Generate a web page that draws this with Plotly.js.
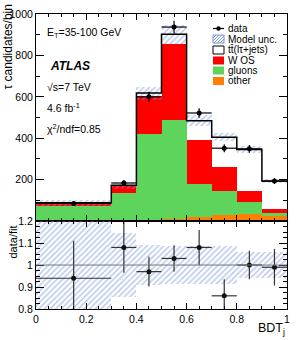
<!DOCTYPE html>
<html>
<head>
<meta charset="utf-8">
<script src="https://cdn.plot.ly/plotly-3.0.1.min.js"></script>
<style>html,body{margin:0;padding:0;background:#fff;}#chart{width:302px;height:340px;}</style>
</head>
<body>
<div id="chart"></div>
<script>
// ---- data ----
const edges = [0, 0.3, 0.4, 0.5, 0.6, 0.7, 0.8, 0.9, 1.0];
const other  = [0, 0, 3, 10, 18, 28, 32, 24];
const gluons = [72, 136, 418, 478, 159, 116, 60, 15];
const wos    = [10, 34, 184, 366, 213, 117, 52, 18];
const ttbar  = [6, 3, 13, 48, 95, 144, 202, 136];
const modelUnc = [14, 16, 31, 46, 26, 20, 16, 9];
const dataY   = [85, 184, 600, 937, 522, 352, 349, 193];
const dataErr = [9, 14, 24, 31, 23, 19, 19, 14];
const ratio    = [0.94, 1.08, 0.97, 1.03, 1.08, 0.86, 1.00, 0.99];
const ratioErr = [0.17, 0.115, 0.068, 0.06, 0.08, 0.075, 0.065, 0.083];
const ratioUnc = [0.25, 0.145, 0.09, 0.085, 0.085, 0.085, 0.06, 0.06];
const topTicks = [0, 200, 400, 600, 800, 1000];
const topTickText = ['', '200', '400', '600', '800', '1000'];
const ratioTicks = [0.8, 0.9, 1, 1.1, 1.2];
const ratioTickText = ['0.8', '0.9', '1', '1.1', '1.2'];
const xTicks = [0, 0.2, 0.4, 0.6, 0.8, 1];
const xTickText = ['0', '0.2', '0.4', '0.6', '0.8', '1'];

// ---- derived ----
const n = other.length;
const centers = [], widths = [], halfW = [];
for (let i = 0; i < n; i++) {
  centers.push((edges[i] + edges[i+1]) / 2);
  widths.push(edges[i+1] - edges[i]);
  halfW.push((edges[i+1] - edges[i]) / 2);
}
const base1 = other.slice();
const base2 = other.map((v, i) => v + gluons[i]);
const base3 = base2.map((v, i) => v + wos[i]);
const total = base3.map((v, i) => v + ttbar[i]);
const zeros = other.map(() => 0);
const stepY = total.concat([total[n-1]]);

const FONT = 'Liberation Sans, Arial, Helvetica, sans-serif';
const HATCH_COL = '#7e97d8';
const hatch = {shape: '/', fgcolor: HATCH_COL, bgcolor: 'rgba(0,0,0,0)', size: 4, solidity: 0.4, fillmode: 'overlay'};

function bar(y, base, color, xa, ya) {
  return {type: 'bar', x: centers, y: y, base: base, width: widths, xaxis: xa, yaxis: ya,
    marker: {color: color, line: {width: 0}}, hoverinfo: 'skip', showlegend: false};
}

const traces = [
  bar(other, zeros, '#ff8000', 'x', 'y'),
  bar(gluons, base1, '#5dd55d', 'x', 'y'),
  bar(wos, base2, '#ff0000', 'x', 'y'),
  bar(ttbar, base3, '#ffffff', 'x', 'y'),
  {type: 'bar', x: centers, y: modelUnc.map(v => 2 * v), base: total.map((t, i) => t - modelUnc[i]),
    width: widths, xaxis: 'x', yaxis: 'y', hoverinfo: 'skip', showlegend: false,
    marker: {color: 'rgba(0,0,0,0)', line: {width: 0}, pattern: hatch}},
  {type: 'scatter', mode: 'lines', x: edges, y: stepY, line: {shape: 'hv', color: '#000', width: 1.5},
    xaxis: 'x', yaxis: 'y', hoverinfo: 'skip', showlegend: false},
  {type: 'scatter', mode: 'markers', x: centers, y: dataY, xaxis: 'x', yaxis: 'y',
    marker: {color: '#000', size: 5},
    error_y: {type: 'data', array: dataErr, color: '#000', thickness: 1.2, width: 0},
    error_x: {type: 'data', array: halfW, color: '#000', thickness: 1.2, width: 0},
    hoverinfo: 'skip', showlegend: false},
  // ratio panel
  {type: 'bar', x: centers, y: ratioUnc.map(v => 2 * v), base: ratioUnc.map(v => 1 - v),
    width: widths, xaxis: 'x2', yaxis: 'y2', hoverinfo: 'skip', showlegend: false,
    marker: {color: 'rgba(0,0,0,0)', line: {width: 0}, pattern: hatch}},
  {type: 'scatter', mode: 'markers', x: centers, y: ratio, xaxis: 'x2', yaxis: 'y2',
    marker: {color: '#111', size: 5},
    error_y: {type: 'data', array: ratioErr, color: '#333', thickness: 1.2, width: 0},
    error_x: {type: 'data', array: halfW, color: '#333', thickness: 1.2, width: 0},
    hoverinfo: 'skip', showlegend: false}
];

// pixel -> paper helpers (plot area: left 36, top 14, width 251, height 295)
const L = 36, T = 14, W = 251, H = 295;
const PX = x => (x - L) / W;
const PY = y => (T + H - y) / H;

function ann(text, x, y, opts) {
  return Object.assign({text: text, x: PX(x), y: PY(y), xref: 'paper', yref: 'paper',
    showarrow: false, xanchor: 'left', yanchor: 'middle',
    font: {family: FONT, size: 10.5, color: '#000'}}, opts || {});
}
function rect(x0, y0, x1, y1, fill, line, lw) {
  return {type: 'rect', xref: 'paper', yref: 'paper', x0: PX(x0), x1: PX(x1), y0: PY(y0), y1: PY(y1),
    fillcolor: fill, line: {color: line, width: lw}, layer: 'above'};
}
function hatchPath(x0, y0, x1, y1, step) {
  let p = '';
  for (let c = x0 + y0 + step; c < x1 + y1; c += step) {
    const xa = Math.max(x0, c - y1), xb = Math.min(x1, c - y0);
    if (xb <= xa) continue;
    p += 'M' + PX(xa) + ',' + PY(c - xa) + 'L' + PX(xb) + ',' + PY(c - xb);
  }
  return {type: 'path', xref: 'paper', yref: 'paper', path: p, line: {color: HATCH_COL, width: 1}, layer: 'above'};
}

const lgX0 = 213, lgX1 = 224, lgTx = 226;
const lgY = [28.5, 39, 50, 60.5, 70.5, 81];
const lgText = ['data', 'Model unc.', 'tt\u0304(l\u03c4+jets)', 'W OS', 'gluons', 'other'];

const shapes = [
  {type: 'line', xref: 'x2', yref: 'y2', x0: edges[0], x1: edges[n], y0: 1, y1: 1, line: {color: '#777', width: 1}},
  {type: 'line', xref: 'paper', yref: 'paper', x0: PX(lgX0), x1: PX(lgX1), y0: PY(lgY[0]), y1: PY(lgY[0]), line: {color: '#000', width: 1.2}, layer: 'above'},
  {type: 'circle', xref: 'paper', yref: 'paper', x0: PX(216.3), x1: PX(220.7), y0: PY(26.3), y1: PY(30.7), fillcolor: '#000', line: {color: '#000', width: 0}, layer: 'above'},
  hatchPath(lgX0, lgY[1] - 4, lgX1, lgY[1] + 4, 3),
  rect(lgX0, lgY[1] - 4, lgX1, lgY[1] + 4, 'rgba(0,0,0,0)', '#7b96d6', 1),
  rect(lgX0, lgY[2] - 4, lgX1, lgY[2] + 4, '#ffffff', '#000', 1),
  rect(lgX0, lgY[3] - 4, lgX1, lgY[3] + 4, '#ff0000', '#ff0000', 0),
  rect(lgX0, lgY[4] - 4, lgX1, lgY[4] + 4, '#5dd55d', '#5dd55d', 0),
  rect(lgX0, lgY[5] - 4, lgX1, lgY[5] + 4, '#ff8000', '#ff8000', 0)
];

const annotations = [
  ann('E<sub>T</sub>=35-100 GeV', 45, 33),
  ann('<b><i>ATLAS</i></b>', 48, 66, {font: {family: FONT, size: 12, color: '#000'}}),
  ann('\u221as=7 TeV', 45, 87),
  ann('4.6 fb<sup>-1</sup>', 45, 107),
  ann('\u03c7<sup>2</sup>/ndf=0.85', 45, 128),
  ann('\u03c4 candidates/bin', 8, 3, {xanchor: 'center', yanchor: 'top', textangle: -90, font: {family: FONT, size: 12, color: '#000'}}),
  ann('data/fit', 12, 224, {xanchor: 'center', yanchor: 'top', textangle: -90, font: {family: FONT, size: 11, color: '#000'}}),
  ann('BDT<sub>j</sub>', 287, 329, {xanchor: 'right', font: {family: FONT, size: 12.5, color: '#000'}})
];
lgText.forEach((t, i) => annotations.push(ann(t, lgTx, lgY[i], {font: {family: FONT, size: 10, color: '#000'}})));

const axBase = {showline: true, linecolor: '#000', linewidth: 1, mirror: 'allticks', ticks: 'inside',
  showgrid: false, zeroline: false, tickcolor: '#000', tickfont: {family: FONT, size: 10.5, color: '#000'}};

const layout = {
  width: 302, height: 340,
  margin: {l: L, r: 302 - L - W, t: T, b: 340 - T - H, pad: 0},
  paper_bgcolor: '#fff', plot_bgcolor: '#fff',
  barmode: 'overlay', bargap: 0,
  showlegend: false,
  font: {family: FONT, size: 10.5, color: '#000'},
  xaxis: Object.assign({}, axBase, {domain: [0, 1], anchor: 'y', range: [0, 1], tickvals: xTicks, showticklabels: false,
    ticklen: 6, minor: {dtick: 0.05, tick0: 0, ticklen: 3, ticks: 'inside', tickcolor: '#000'}}),
  yaxis: Object.assign({}, axBase, {domain: [0.298, 1], anchor: 'x', range: [0, 1000], tickvals: topTicks, ticktext: topTickText,
    ticklen: 8, minor: {dtick: 100, tick0: 0, ticklen: 4, ticks: 'inside', tickcolor: '#000'}}),
  xaxis2: Object.assign({}, axBase, {domain: [0, 1], anchor: 'y2', range: [0, 1], tickvals: xTicks, ticktext: xTickText,
    ticklen: 6, minor: {dtick: 0.05, tick0: 0, ticklen: 3, ticks: 'inside', tickcolor: '#000'}}),
  yaxis2: Object.assign({}, axBase, {domain: [0, 0.298], anchor: 'x2', range: [0.8, 1.2], tickvals: ratioTicks, ticktext: ratioTickText,
    ticklen: 8, minor: {dtick: 0.025, tick0: 0.8, ticklen: 4, ticks: 'inside', tickcolor: '#000'}}),
  shapes: shapes,
  annotations: annotations
};

Plotly.newPlot('chart', traces, layout, {staticPlot: true, displayModeBar: false});
</script>
</body>
</html>
